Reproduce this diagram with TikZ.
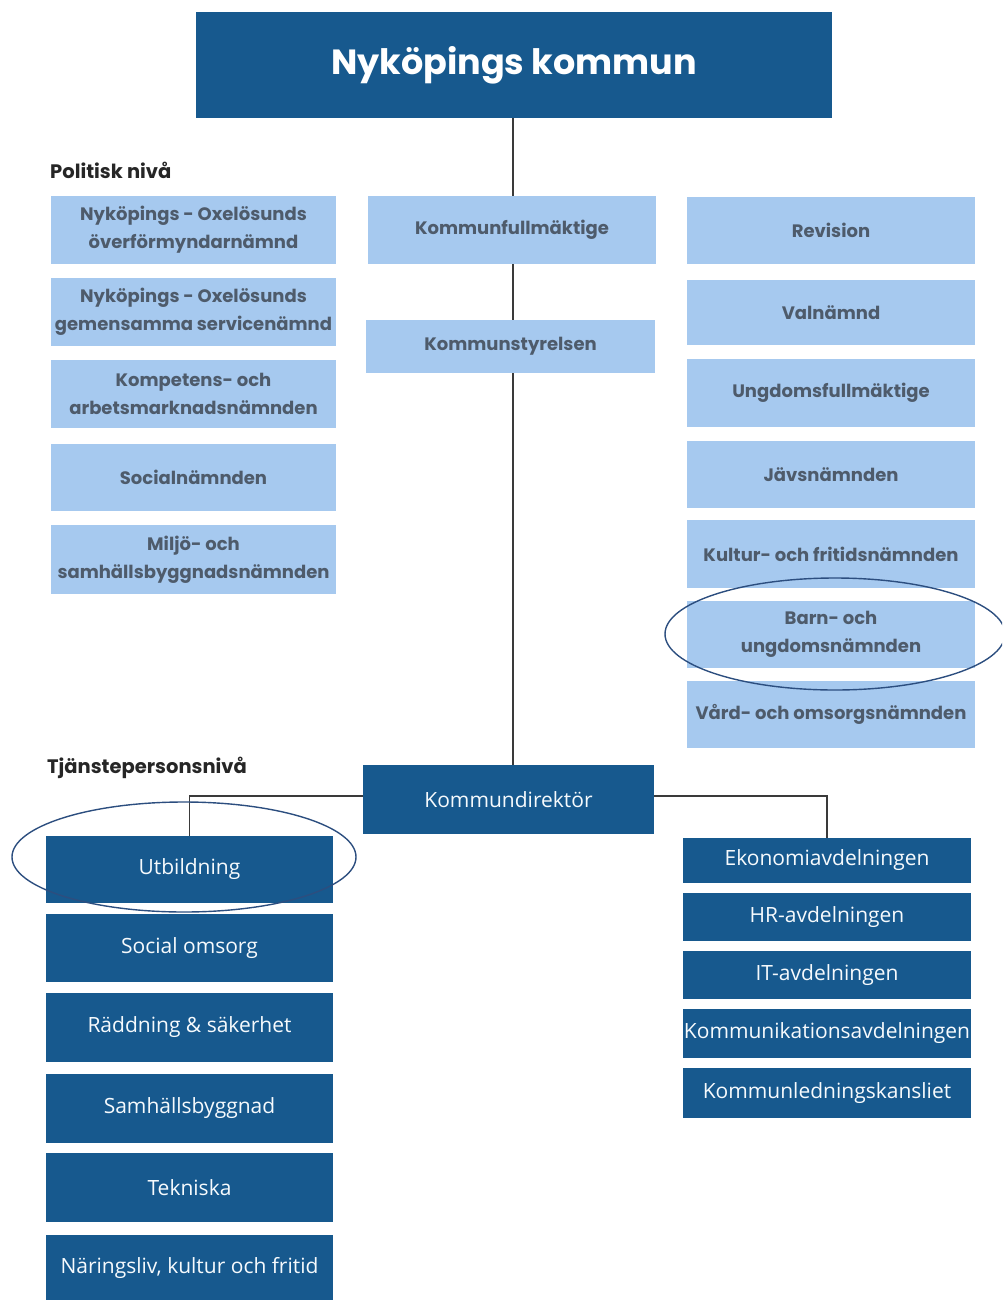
\documentclass[tikz,border=0pt]{standalone}
\usepackage{fontspec}
\newfontfamily\headfont{Poppins}
\newfontfamily\bodyfont{Open Sans}
\definecolor{darkblue}{HTML}{17598E}
\definecolor{lightblue}{HTML}{A6C9EF}
\definecolor{lighttext}{HTML}{4E5B6B}
\definecolor{ringblue}{HTML}{2C4E7F}
\definecolor{linegrey}{HTML}{3A3A3A}
\tikzset{
  lbox/.style={fill=lightblue, draw=none, inner sep=0pt, align=center, text=lighttext,
    font=\headfont\bfseries\fontsize{18}{28}\selectfont},
  dbox/.style={fill=darkblue, draw=none, inner sep=0pt, align=center, text=white!90!lightblue,
    font=\bodyfont\fontsize{21}{24}\selectfont},
  conn/.style={draw=linegrey, line width=1.6pt},
  ring/.style={draw=ringblue, line width=1.4pt},
  lvl/.style={anchor=west, inner sep=0pt, text=black!85, font=\headfont\bfseries\fontsize{19.5}{22}\selectfont}
}
\begin{document}
\begin{tikzpicture}[x=1pt, y=-1pt]
\useasboundingbox (0,0) rectangle (1002,1300);
\clip (0,0) rectangle (1002,1300);
% top
\node[dbox, minimum width=636pt, minimum height=106pt, font=\headfont\bfseries\fontsize{35}{42}\selectfont, text=white] (top) at (514,65) {Nyköpings kommun};
% labels
\node[lvl] (pol) at (50,170) {Politisk nivå};
\node[lvl] (tj) at (47,768) {Tjänstepersonsnivå};
% middle
\node[lbox, minimum width=288pt, minimum height=68pt] (kf) at (512,230) {Kommunfullmäktige};
\node[lbox, minimum width=289pt, minimum height=53pt] (ks) at (510.5,346.5) {Kommunstyrelsen};
% left political
\node[lbox, minimum width=285pt, minimum height=68pt] (l1) at (193.5,230) {Nyköpings - Oxelösunds\\överförmyndarnämnd};
\node[lbox, minimum width=285pt, minimum height=68pt] (l2) at (193.5,312) {Nyköpings - Oxelösunds\\gemensamma servicenämnd};
\node[lbox, minimum width=285pt, minimum height=68pt] (l3) at (193.5,394) {Kompetens- och\\arbetsmarknadsnämnden};
\node[lbox, minimum width=285pt, minimum height=67pt] (l4) at (193.5,477.5) {Socialnämnden};
\node[lbox, minimum width=285pt, minimum height=69pt] (l5) at (193.5,559.5) {Miljö- och\\samhällsbyggnadsnämnden};
% right political
\node[lbox, minimum width=288pt, minimum height=67pt] (r1) at (831,230.5) {Revision};
\node[lbox, minimum width=288pt, minimum height=65pt] (r2) at (831,312.5) {Valnämnd};
\node[lbox, minimum width=288pt, minimum height=68pt] (r3) at (831,393) {Ungdomsfullmäktige};
\node[lbox, minimum width=288pt, minimum height=67pt] (r4) at (831,474.5) {Jävsnämnden};
\node[lbox, minimum width=288pt, minimum height=68pt] (r5) at (831,554) {Kultur- och fritidsnämnden};
\node[lbox, minimum width=288pt, minimum height=67pt] (r6) at (831,634.5) {Barn- och\\ungdomsnämnden};
\node[lbox, minimum width=288pt, minimum height=67pt] (r7) at (831,714.5) {Vård- och omsorgsnämnden};
% director
\node[dbox, minimum width=291pt, minimum height=69pt] (kd) at (508.5,799.5) {Kommundirektör};
% left services
\node[dbox, minimum width=287pt, minimum height=67pt] (s1) at (189.5,869.5) {Utbildning};
\node[dbox, minimum width=287pt, minimum height=68pt] (s2) at (189.5,948) {Social omsorg};
\node[dbox, minimum width=287pt, minimum height=69pt] (s3) at (189.5,1027.5) {Räddning \& säkerhet};
\node[dbox, minimum width=287pt, minimum height=69pt] (s4) at (189.5,1108.5) {Samhällsbyggnad};
\node[dbox, minimum width=287pt, minimum height=69pt] (s5) at (189.5,1187.5) {Tekniska};
\node[dbox, minimum width=287pt, minimum height=65pt] (s6) at (189.5,1267.5) {Näringsliv, kultur och fritid};
% right departments
\node[dbox, minimum width=288pt, minimum height=45pt] (d1) at (827,860.5) {Ekonomiavdelningen};
\node[dbox, minimum width=288pt, minimum height=48pt] (d2) at (827,917) {HR-avdelningen};
\node[dbox, minimum width=288pt, minimum height=48pt] (d3) at (827,975) {IT-avdelningen};
\node[dbox, minimum width=288pt, minimum height=49pt] (d4) at (827,1033.5) {Kommunikationsavdelningen};
\node[dbox, minimum width=288pt, minimum height=50pt] (d5) at (827,1093) {Kommunledningskansliet};
% connectors
\draw[conn] (top.south -| 513,0) -- (kf.north -| 513,0);
\draw[conn] (kf.south -| 513,0) -- (ks.north -| 513,0);
\draw[conn] (ks.south -| 513,0) -- (kd.north -| 513,0);
\draw[conn] (kd.west |- 0,796) -| (s1.north);
\draw[conn] (kd.east |- 0,796) -| (d1.north);
% rings
\draw[ring] (184,857) ellipse [x radius=172, y radius=55];
\draw[ring] (835,634) ellipse [x radius=170, y radius=56];
\end{tikzpicture}
\end{document}
